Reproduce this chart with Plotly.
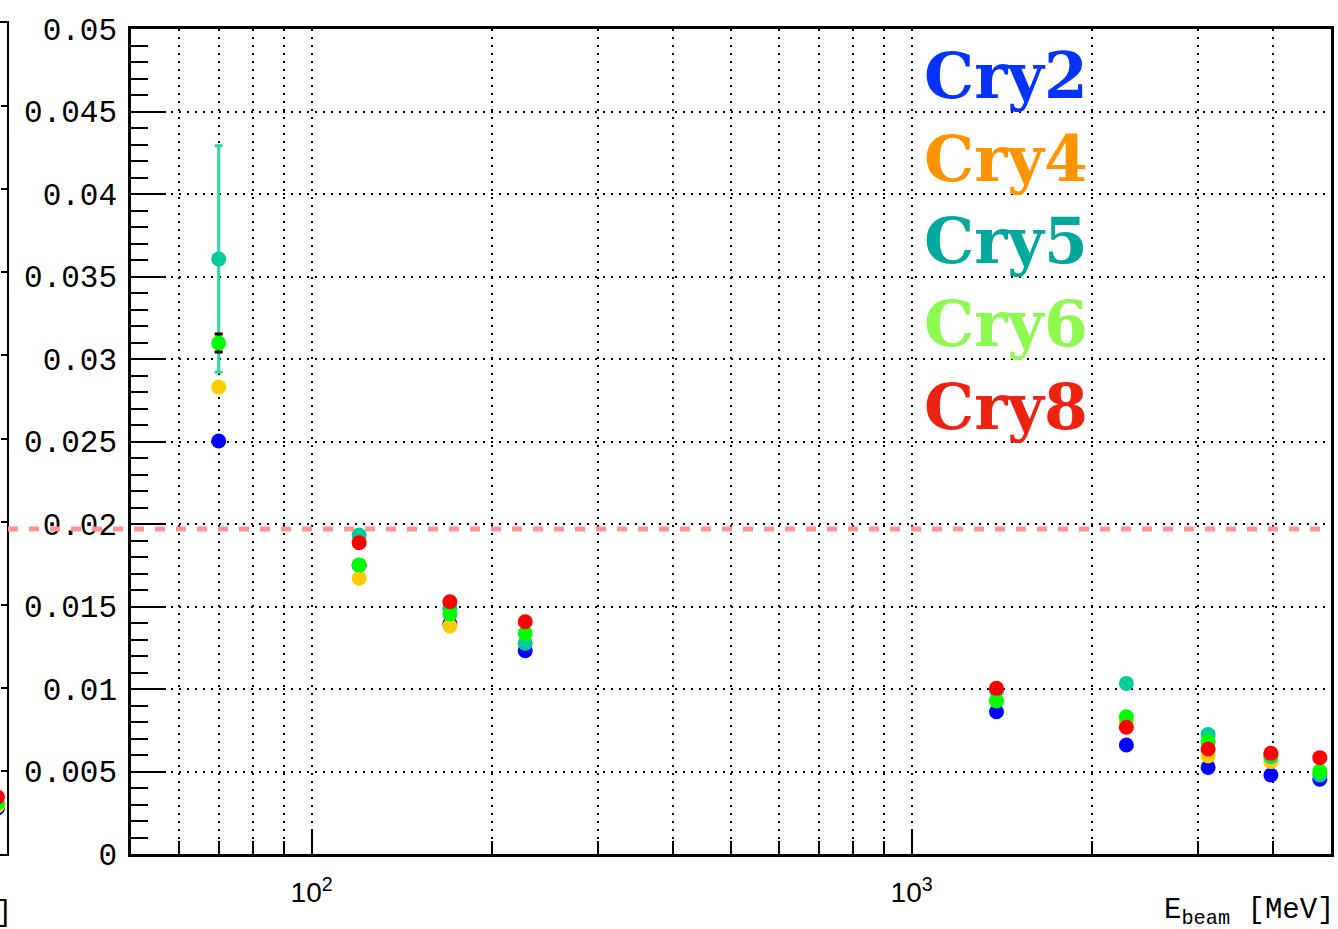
import math
import plotly.graph_objects as go

# ---------------- data ----------------
E_beam = [70, 120, 170, 227, 1385, 2280, 3120, 3970, 4790]

cry2 = [0.02503, 0.01750, 0.01395, 0.01232, 0.00862, 0.00661, 0.00525, 0.00479, 0.00453]
cry4 = [0.02830, 0.01671, 0.01382, 0.01280, 0.00930, 0.00802, 0.00594, 0.00560, 0.00490]
cry5 = [0.03606, 0.01933, 0.01490, 0.01277, 0.00990, 0.01034, 0.00725, 0.00590, 0.00479]
cry6 = [0.03097, 0.01752, 0.01455, 0.01337, 0.00927, 0.00832, 0.00681, 0.00600, 0.00503]
cry8 = [None,    0.01887, 0.01529, 0.01408, 0.01004, 0.00768, 0.00636, 0.00610, 0.00584]

cry5_err = [0.00686, None, None, None, None, None, None, None, None]
cry6_err = [0.00055, None, None, None, None, None, None, None, None]

series_names = ["Cry2", "Cry4", "Cry5", "Cry6", "Cry8"]
series_values = [cry2, cry4, cry5, cry6, cry8]
series_errors = [None, None, cry5_err, cry6_err, None]
marker_colors = ["#0000FF", "#FFCC00", "#00CC99", "#00FF00", "#FF0000"]
error_colors = [None, None, "#33D4A4", "#000000", None]
label_colors = ["#0433FF", "#FF9300", "#00A89D", "#8CFA50", "#EE2211"]

threshold = 0.0197

y_tickvals = [0, 0.005, 0.01, 0.015, 0.02, 0.025, 0.03, 0.035, 0.04, 0.045, 0.05]
y_ticktext = ["0", "0.005", "0.01", "0.015", "0.02", "0.025", "0.03", "0.035", "0.04", "0.045", "0.05"]
x_major = [100, 1000]
x_major_text = ["10<sup>2</sup>", "10<sup>3</sup>"]
x_minor = [60, 70, 80, 90, 200, 300, 400, 500, 600, 700, 800, 900, 2000, 3000, 4000]

# neighbouring (cropped) panel on the far left
left_E = [4790, 4790, 4790, 4790]
left_vals = [0.00277, 0.00290, 0.00307, 0.00343]
left_colors = ["#0000FF", "#FFCC00", "#00FF00", "#FF0000"]

# ---------------- figure ----------------
W, H = 1338, 929
ML, MR, MT, MB = 0, 7, 20, 75
PW, PH = W - ML - MR, H - MT - MB

fig = go.Figure()

for name, vals, errs, mcol, ecol in zip(series_names, series_values, series_errors,
                                         marker_colors, error_colors):
    err = None
    if errs is not None:
        err = dict(type="data", array=errs, visible=True, color=ecol,
                   thickness=3, width=4)
    fig.add_trace(go.Scatter(
        x=E_beam, y=vals, mode="markers", name=name,
        marker=dict(size=15, color=mcol, line=dict(width=0)),
        error_y=err, showlegend=False, xaxis="x", yaxis="y"))

for v, c in zip(left_vals, left_colors):
    fig.add_trace(go.Scatter(
        x=[left_E[0]], y=[v], mode="markers",
        marker=dict(size=15, color=c, line=dict(width=0)),
        showlegend=False, xaxis="x2", yaxis="y2"))

grid_dash = "2px,6px"

fig.update_layout(
    width=W, height=H,
    margin=dict(l=ML, r=MR, t=MT, b=MB, pad=0),
    paper_bgcolor="white", plot_bgcolor="white",
    showlegend=False,
    xaxis=dict(
        type="log", range=[math.log10(50), math.log10(5000)],
        domain=[131 / PW, 1], anchor="y",
        showline=True, linecolor="black", linewidth=2.5, mirror=True,
        ticks="inside", ticklen=23, tickwidth=2, tickcolor="black",
        tickmode="array", tickvals=x_major, ticktext=x_major_text,
        tickfont=dict(family="Liberation Sans", size=28, color="black"),
        ticklabelstandoff=12,
        showgrid=True, gridcolor="black", gridwidth=2, griddash=grid_dash,
        zeroline=False,
        minor=dict(tickmode="array", tickvals=x_minor, ticks="inside",
                   ticklen=13, tickwidth=2, tickcolor="black",
                   showgrid=True, gridcolor="black", gridwidth=2,
                   griddash=grid_dash),
    ),
    yaxis=dict(
        range=[0, 0.05], domain=[0, 825 / PH], anchor="x",
        showline=True, linecolor="black", linewidth=2.5, mirror=True,
        ticks="inside", ticklen=35, tickwidth=2, tickcolor="black",
        tickmode="array", tickvals=y_tickvals, ticktext=y_ticktext,
        tickfont=dict(family="Liberation Mono", size=31, color="black"),
        ticklabelstandoff=5,
        showgrid=True, gridcolor="black", gridwidth=2, griddash=grid_dash,
        zeroline=False,
        minor=dict(dtick=0.001, ticks="inside", ticklen=17, tickwidth=2,
                   tickcolor="black", showgrid=False),
    ),
    xaxis2=dict(
        type="log", range=[3.6845, 3.6845 + 7 / 601],
        domain=[0, 7 / PW], anchor="y2",
        showline=True, linecolor="black", linewidth=2, mirror=True,
        ticks="", showticklabels=False, showgrid=False, zeroline=False,
    ),
    yaxis2=dict(
        range=[0, 0.05], domain=[0, 831 / PH], anchor="x2", side="right",
        showline=True, linecolor="black", linewidth=2,
        ticks="inside", ticklen=6, tickwidth=1.5, tickcolor="black",
        dtick=0.005, showticklabels=False, showgrid=False, zeroline=False,
    ),
)

fig.add_shape(type="line", xref="paper", yref="y",
              x0=8 / PW, x1=1, y0=threshold, y1=threshold,
              line=dict(color="#FF9494", width=5, dash="10px,11px"),
              layer="above")

for i, (name, col) in enumerate(zip(series_names, label_colors)):
    yc = 76 + i * 82.7
    fig.add_annotation(
        text=name, xref="paper", yref="paper",
        x=922 / PW, y=1 - (yc - MT) / PH, xanchor="left", yanchor="middle",
        showarrow=False,
        font=dict(family="DejaVu Serif", size=63, color=col, weight="bold"))

fig.add_annotation(
    text="E<sub>beam</sub> [MeV]", xref="paper", yref="paper",
    x=1337 / PW, y=-(912 - 854) / PH, xanchor="right", yanchor="middle",
    showarrow=False,
    font=dict(family="Liberation Mono", size=29, color="black"))

fig.add_annotation(
    text="]", xref="paper", yref="paper",
    x=14 / PW, y=-(913 - 854) / PH, xanchor="right", yanchor="middle",
    showarrow=False,
    font=dict(family="Liberation Mono", size=29, color="black"))

fig.write_html(
    "out.html",
    config={"displayModeBar": False},
    post_script="document.body.style.margin='0';document.body.style.overflow='hidden';",
)
